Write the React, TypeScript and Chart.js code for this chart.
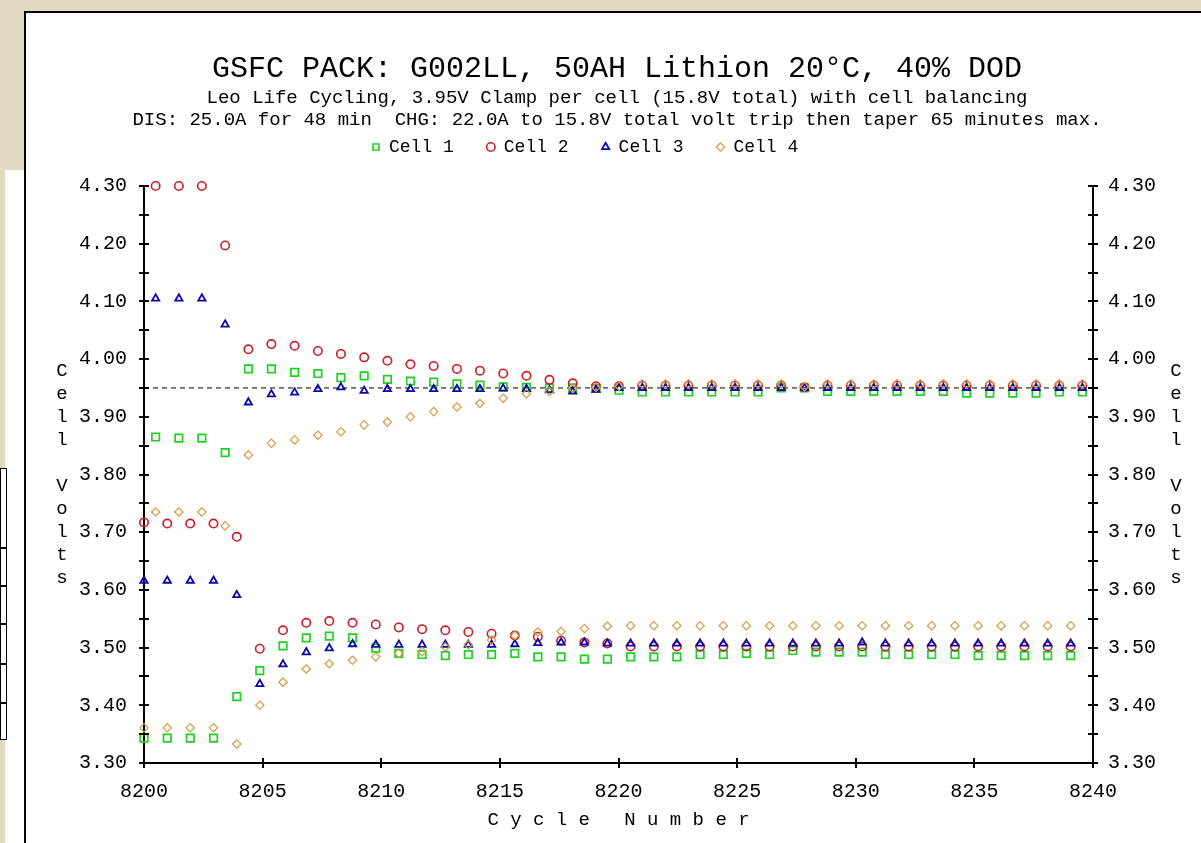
import React, { useEffect, useRef } from "react";
import { Chart, registerables } from "chart.js";

Chart.register(...registerables);

const FONT = "'Liberation Mono', 'Courier New', 'DejaVu Sans Mono', monospace";

const chartTitle = "GSFC PACK: G002LL, 50AH Lithion 20°C, 40% DOD";
const subtitleLines = [
  "Leo Life Cycling, 3.95V Clamp per cell (15.8V total) with cell balancing",
  "DIS: 25.0A for 48 min  CHG: 22.0A to 15.8V total volt trip then taper 65 minutes max.",
];
const xAxisTitle = "C y c l e   N u m b e r";
const yAxisTitle = "Cell Volts";

const seriesNames = ["Cell 1", "Cell 2", "Cell 3", "Cell 4"];

const clampVolts = 3.95;
const xRange = [8200, 8240];
const yRange = [3.3, 4.3];
const xTickValues = [8200, 8205, 8210, 8215, 8220, 8225, 8230, 8235, 8240];
const yTickValues = [
  3.3, 3.35, 3.4, 3.45, 3.5, 3.55, 3.6, 3.65, 3.7, 3.75, 3.8, 3.85, 3.9, 3.95, 4.0, 4.05, 4.1, 4.15, 4.2, 4.25, 4.3,
];
const yTickLabels = ["3.30", "3.40", "3.50", "3.60", "3.70", "3.80", "3.90", "4.00", "4.10", "4.20", "4.30"];

// cycle number of each end-of-discharge and end-of-charge reading
const cycleDischargeEnd = [
  8200.0, 8200.98, 8201.95, 8202.93, 8203.91, 8204.88, 8205.86, 8206.84, 8207.81, 8208.79, 8209.77,
  8210.74, 8211.72, 8212.7, 8213.67, 8214.65, 8215.63, 8216.6, 8217.58, 8218.56, 8219.53, 8220.51,
  8221.49, 8222.46, 8223.44, 8224.42, 8225.39, 8226.37, 8227.35, 8228.32, 8229.3, 8230.27, 8231.25,
  8232.23, 8233.2, 8234.18, 8235.16, 8236.13, 8237.11, 8238.09, 8239.06,
];
const cycleChargeEnd = [
  8200.49, 8201.47, 8202.44, 8203.42, 8204.4, 8205.37, 8206.35, 8207.33, 8208.3, 8209.28, 8210.26,
  8211.23, 8212.21, 8213.19, 8214.16, 8215.14, 8216.12, 8217.09, 8218.07, 8219.05, 8220.02, 8221.0,
  8221.98, 8222.95, 8223.93, 8224.91, 8225.88, 8226.86, 8227.84, 8228.81, 8229.79, 8230.76, 8231.74,
  8232.72, 8233.69, 8234.67, 8235.65, 8236.62, 8237.6, 8238.58, 8239.55,
];

const cell1Charge = [
  3.865, 3.863, 3.863, 3.838, 3.983, 3.983, 3.977, 3.975, 3.968, 3.971, 3.965, 3.962, 3.96, 3.957, 3.955,
  3.952, 3.951, 3.95, 3.95, 3.949, 3.946, 3.943, 3.943, 3.943, 3.943, 3.943, 3.943, 3.95, 3.95, 3.944,
  3.944, 3.944, 3.944, 3.944, 3.944, 3.941, 3.941, 3.941, 3.941, 3.943, 3.943,
];
const cell2Charge = [
  4.3, 4.3, 4.3, 4.197, 4.017, 4.026, 4.023, 4.014, 4.009, 4.003, 3.997, 3.991, 3.988, 3.983, 3.98, 3.975,
  3.971, 3.964, 3.958, 3.953, 3.953, 3.954, 3.954, 3.954, 3.954, 3.954, 3.954, 3.954, 3.951, 3.954, 3.954,
  3.954, 3.954, 3.954, 3.954, 3.954, 3.954, 3.954, 3.954, 3.954, 3.954,
];
const cell3Charge = [
  4.105, 4.105, 4.105, 4.06, 3.925, 3.939, 3.942, 3.948, 3.951, 3.945, 3.948, 3.948, 3.948, 3.948, 3.948,
  3.949, 3.948, 3.946, 3.944, 3.947, 3.95, 3.95, 3.95, 3.95, 3.95, 3.95, 3.95, 3.95, 3.95, 3.95, 3.95, 3.95,
  3.95, 3.95, 3.95, 3.95, 3.95, 3.95, 3.95, 3.95, 3.95,
];
const cell4Charge = [
  3.735, 3.735, 3.735, 3.711, 3.834, 3.854, 3.86, 3.868, 3.874, 3.886, 3.891, 3.9, 3.909, 3.917, 3.923,
  3.932, 3.94, 3.944, 3.949, 3.951, 3.953, 3.957, 3.957, 3.957, 3.957, 3.957, 3.957, 3.957, 3.952, 3.957,
  3.957, 3.957, 3.957, 3.957, 3.957, 3.957, 3.957, 3.957, 3.957, 3.957, 3.957,
];

const cell1Discharge = [
  3.343, 3.343, 3.343, 3.343, 3.415, 3.46, 3.503, 3.517, 3.52, 3.517, 3.499, 3.49, 3.488, 3.486, 3.488,
  3.488, 3.49, 3.484, 3.484, 3.48, 3.48, 3.484, 3.484, 3.484, 3.488, 3.488, 3.49, 3.488, 3.495, 3.492,
  3.492, 3.492, 3.488, 3.488, 3.488, 3.488, 3.486, 3.486, 3.486, 3.486, 3.486,
];
const cell2Discharge = [
  3.717, 3.715, 3.715, 3.715, 3.692, 3.498, 3.53, 3.543, 3.546, 3.543, 3.54, 3.535, 3.532, 3.53, 3.527,
  3.524, 3.521, 3.519, 3.512, 3.509, 3.507, 3.502, 3.502, 3.502, 3.502, 3.502, 3.502, 3.502, 3.502, 3.502,
  3.502, 3.502, 3.502, 3.502, 3.502, 3.502, 3.502, 3.502, 3.502, 3.502, 3.502,
];
const cell3Discharge = [
  3.616, 3.616, 3.616, 3.616, 3.591, 3.437, 3.471, 3.492, 3.499, 3.506, 3.505, 3.505, 3.505, 3.505, 3.505,
  3.505, 3.506, 3.508, 3.509, 3.509, 3.507, 3.507, 3.507, 3.507, 3.507, 3.507, 3.507, 3.507, 3.507, 3.507,
  3.507, 3.509, 3.507, 3.507, 3.507, 3.507, 3.507, 3.507, 3.507, 3.507, 3.507,
];
const cell4Discharge = [
  3.361, 3.361, 3.361, 3.361, 3.333, 3.4, 3.44, 3.463, 3.472, 3.478, 3.484, 3.49, 3.493, 3.501, 3.505,
  3.513, 3.521, 3.527, 3.528, 3.533, 3.537, 3.538, 3.538, 3.538, 3.538, 3.538, 3.538, 3.538, 3.538, 3.538,
  3.538, 3.538, 3.538, 3.538, 3.538, 3.538, 3.538, 3.538, 3.538, 3.538, 3.538,
];

const chargeSeries = [cell1Charge, cell2Charge, cell3Charge, cell4Charge];
const dischargeSeries = [cell1Discharge, cell2Discharge, cell3Discharge, cell4Discharge];

const seriesStyles = [
  { color: "#1fd21f", marker: "rect", radius: 5.3, width: 1.7 },
  { color: "#cc1d26", marker: "circle", radius: 4.2, width: 1.6 },
  { color: "#0a0aa6", marker: "triangle", radius: 4.2, width: 1.8 },
  { color: "#d49a45", marker: "rectRot", radius: 4.2, width: 1.2 },
];

// layout constants (pixels)
const AREA_LEFT = 144;
const AREA_RIGHT = 1093;
const AREA_BOTTOM = 763;
const CANVAS_W = 1201;
const CANVAS_H = 843;
const PAD_LEFT = 33;
const PAD_TOP = 51;
const LEGEND_BOX_HEIGHT = 55;
const LEGEND_PADDING = 33;
const LEGEND_FONT = 18;
const LEGEND_CENTER_Y = 147;
const LEGEND_START_X = 372;

function buildPoints(k: number) {
  const pts: { x: number; y: number }[] = [];
  for (let i = 0; i < cycleDischargeEnd.length; i++) {
    pts.push({ x: cycleDischargeEnd[i], y: dischargeSeries[k][i] });
    pts.push({ x: cycleChargeEnd[i], y: chargeSeries[k][i] });
  }
  return pts;
}

function yLabel(v: number) {
  const found = yTickLabels.find((l) => Math.abs(parseFloat(l) - v) < 1e-6);
  return found ?? "";
}

const legendPlacementPlugin = {
  id: "legendPlacement",
  beforeLayout(chart: any) {
    const lg = chart.legend;
    if (lg && !lg.__sizedFit) {
      const fit = lg.fit;
      lg.fit = function () {
        fit.call(this);
        this.height = LEGEND_BOX_HEIGHT;
      };
      lg.__sizedFit = true;
    }
  },
  afterLayout(chart: any) {
    const lg = chart.legend;
    if (!lg) return;
    lg.top = LEGEND_CENTER_Y - LEGEND_PADDING - LEGEND_FONT / 2;
    lg.left = LEGEND_START_X - LEGEND_PADDING;
  },
};

const axisDecorPlugin = {
  id: "axisDecor",
  afterDraw(chart: any) {
    const { ctx, chartArea, scales } = chart;
    ctx.save();
    ctx.strokeStyle = "#000";
    ctx.lineWidth = 2;
    ctx.beginPath();
    for (const t of scales.y.ticks) {
      const py = Math.round(scales.y.getPixelForValue(t.value));
      ctx.moveTo(chartArea.left - 5, py);
      ctx.lineTo(chartArea.left + 5, py);
      ctx.moveTo(chartArea.right - 5, py);
      ctx.lineTo(chartArea.right + 5, py);
    }
    for (const t of scales.x.ticks) {
      const px = Math.round(scales.x.getPixelForValue(t.value));
      ctx.moveTo(px, chartArea.bottom - 5);
      ctx.lineTo(px, chartArea.bottom + 5);
    }
    ctx.stroke();

    ctx.font = `19px ${FONT}`;
    ctx.fillStyle = "#000";
    ctx.textAlign = "center";
    ctx.textBaseline = "middle";
    const letters = yAxisTitle.split("");
    const lineH = 23.1;
    const midY = (chartArea.top + chartArea.bottom) / 2;
    const startY = midY - ((letters.length - 1) * lineH) / 2;
    letters.forEach((ch: string, i: number) => {
      if (ch === " ") return;
      ctx.fillText(ch, chartArea.left - 82, startY + i * lineH);
      ctx.fillText(ch, chartArea.right + 83, startY + i * lineH);
    });
    ctx.restore();
  },
};

export default function App() {
  const ref = useRef<HTMLCanvasElement>(null);

  useEffect(() => {
    if (!ref.current) return;
    const cellDatasets = seriesNames.map((name, k) => ({
      type: "scatter" as const,
      label: name,
      data: buildPoints(k),
      pointStyle: seriesStyles[k].marker,
      pointRadius: seriesStyles[k].radius,
      pointBorderWidth: seriesStyles[k].width,
      borderWidth: seriesStyles[k].width,
      borderColor: seriesStyles[k].color,
      pointBorderColor: seriesStyles[k].color,
      backgroundColor: "rgba(0,0,0,0)",
      pointBackgroundColor: "rgba(0,0,0,0)",
      showLine: false,
      clip: false as any,
      order: 4 - k,
    }));
    const clampDataset = {
      type: "line" as const,
      label: "clamp",
      data: [
        { x: xRange[0], y: clampVolts },
        { x: xRange[1], y: clampVolts },
      ],
      borderColor: "#000",
      borderWidth: 1,
      borderDash: [5, 4],
      pointRadius: 0,
      showLine: true,
      order: 10,
    };

    const yScaleBase = (position: "left" | "right") => ({
      type: "linear" as const,
      position,
      min: yRange[0],
      max: yRange[1],
      afterBuildTicks: (s: any) => {
        s.ticks = yTickValues.map((v) => ({ value: v }));
      },
      ticks: {
        autoSkip: false,
        font: { family: FONT, size: 20 },
        color: "#000",
        padding: position === "left" ? 9 : 7,
        callback: (v: any) => yLabel(Number(v)),
      },
      grid: { display: false },
      border: { display: true, color: "#000", width: 2 },
      afterFit: (s: any) => {
        s.width = position === "left" ? AREA_LEFT - PAD_LEFT : CANVAS_W - AREA_RIGHT;
      },
    });

    const chart = new Chart(ref.current, {
      type: "scatter",
      data: { datasets: [...cellDatasets, clampDataset] as any },
      options: {
        responsive: false,
        animation: false,
        devicePixelRatio: 1,
        layout: { padding: { top: PAD_TOP, left: PAD_LEFT, right: 0, bottom: 0 } },
        scales: {
          x: {
            type: "linear",
            position: "bottom",
            min: xRange[0],
            max: xRange[1],
            afterBuildTicks: (s: any) => {
              s.ticks = xTickValues.map((v) => ({ value: v }));
            },
            ticks: {
              autoSkip: false,
              maxRotation: 0,
              font: { family: FONT, size: 20 },
              color: "#000",
              padding: 9,
              callback: (v: any) => String(v),
            },
            grid: { display: false },
            border: { display: true, color: "#000", width: 2 },
            title: {
              display: true,
              text: xAxisTitle,
              font: { family: FONT, size: 19, lineHeight: 1.2 },
              color: "#000",
              padding: { top: 0, bottom: 12 },
            },
            afterFit: (s: any) => {
              s.height = CANVAS_H - AREA_BOTTOM;
            },
          },
          y: yScaleBase("left"),
          y2: yScaleBase("right"),
        } as any,
        plugins: {
          title: {
            display: true,
            text: chartTitle,
            color: "#000",
            font: { family: FONT, size: 30, weight: "normal", lineHeight: 1.2 },
            padding: { top: 0, bottom: 0 },
          },
          subtitle: {
            display: true,
            text: subtitleLines,
            color: "#000",
            font: { family: FONT, size: 19, weight: "normal", lineHeight: 22 / 19 },
            padding: { top: 0, bottom: 0 },
          },
          legend: {
            display: true,
            position: "top",
            align: "start",
            labels: {
              usePointStyle: true,
              boxWidth: 8,
              boxHeight: 6,
              padding: LEGEND_PADDING,
              color: "#000",
              font: { family: FONT, size: LEGEND_FONT },
              filter: (item: any) => item.datasetIndex < seriesNames.length,
              sort: (a: any, b: any) => a.datasetIndex - b.datasetIndex,
            },
          },
          tooltip: { enabled: false },
        },
      },
      plugins: [legendPlacementPlugin, axisDecorPlugin],
    });
    return () => chart.destroy();
  }, []);

  const boxLines = [547, 585, 623, 663, 702];

  return (
    <div
      style={{
        position: "fixed",
        left: 0,
        top: 0,
        width: CANVAS_W,
        height: CANVAS_H,
        background: "#e3dac2",
        overflow: "hidden",
      }}
    >
      <div style={{ position: "absolute", left: 5, top: 170, width: 20, bottom: 0, background: "#fff" }} />
      <div
        style={{
          position: "absolute",
          left: 0,
          top: 468,
          width: 5,
          height: 270,
          background: "#fff",
          border: "1.5px solid #000",
        }}
      />
      {boxLines.map((y) => (
        <div key={y} style={{ position: "absolute", left: 0, top: y, width: 7, height: 2, background: "#000" }} />
      ))}
      <div
        style={{
          position: "absolute",
          left: 24,
          top: 11,
          right: 0,
          bottom: 0,
          background: "#fff",
          borderLeft: "2px solid #000",
          borderTop: "2px solid #000",
        }}
      />
      <canvas
        ref={ref}
        width={CANVAS_W}
        height={CANVAS_H}
        style={{ position: "absolute", left: 0, top: 0, width: CANVAS_W, height: CANVAS_H }}
      />
    </div>
  );
}
